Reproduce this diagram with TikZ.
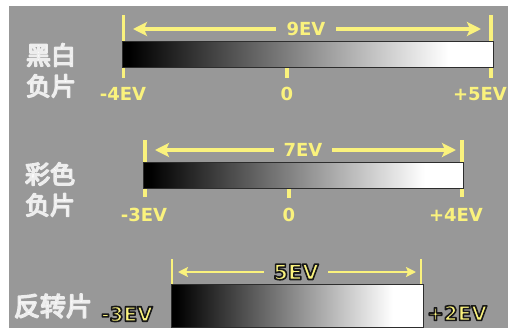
\documentclass[tikz,border=0pt]{standalone}
\usepackage{fontspec}
\usetikzlibrary{arrows.meta}
\newfontfamily\cjk{Noto Sans CJK SC}
\newfontfamily\lat{DejaVu Sans}
\definecolor{bg}{RGB}{152,152,152}
\definecolor{yel}{RGB}{250,242,125}
\definecolor{edge}{RGB}{45,45,45}
% outlined text: #1 fill colour, #2 stroke width, #3 stroke rgb, #4 text
\newcommand\outl[4]{{\color{#1}\special{pdf:literal direct 1 j #2 w #3 RG 2 Tr}#4\special{pdf:literal direct 0 Tr}}}
\pgfdeclarehorizontalshading{bwbar}{100bp}{color(0bp)=(black); color(26bp)=(black); color(69bp)=(white); color(100bp)=(white)}
\begin{document}
\begin{tikzpicture}[x=1pt,y=-1pt,
  bar/.style={shading=bwbar, draw=edge, line width=1pt},
  tickline/.style={yel, line width=3.5pt},
  tickthin/.style={yel, line width=2pt},
  arr/.style={yel, line width=3.5pt, {Stealth[length=14pt,width=14pt,inset=3pt]}-{Stealth[length=14pt,width=14pt,inset=3pt]}},
  arrthin/.style={yel, line width=2.2pt, {Stealth[length=10pt,width=10pt,inset=2pt]}-{Stealth[length=10pt,width=10pt,inset=2pt]}},
  lab/.style={inner sep=0pt, text=yel, font=\lat\bfseries\fontsize{18}{18}\selectfont},
  labbig/.style={inner sep=0pt, font=\lat\bfseries\fontsize{20}{20}\selectfont},
  cjklab/.style={inner sep=0pt, font=\cjk\fontsize{25}{25}\selectfont},
  evlab/.style={fill=bg, inner ysep=2pt, text=yel, font=\lat\bfseries\fontsize{18}{18}\selectfont}
]
\useasboundingbox (0,0) rectangle (508,329);
\fill[white] (0,0) rectangle (508,329);
\fill[bg] (9,6) rectangle (508,328);

% ---------- row 1 ----------
\coordinate (t1lt) at (123.5,15); \coordinate (t1lb) at (123.5,78);
\coordinate (t1rt) at (491,15);   \coordinate (t1rb) at (491,78);
\coordinate (t10t) at (287,68);   \coordinate (t10b) at (287,78);
\coordinate (a1l) at (133,29);    \coordinate (a1r) at (481,29);
\draw[tickline] (t1lt) -- (t1lb);
\draw[tickline] (t1rt) -- (t1rb);
\draw[tickline] (t10t) -- (t10b);
\path[bar] (122,42) rectangle (493,67);
\draw[arr] (a1l) -- (a1r);
\node[evlab, inner xsep=11pt] (e1) at (306,29) {9EV};
\node[lab] (l1a) at (123,94) {-4EV};
\node[lab] (l1b) at (287,94) {0};
\node[lab] (l1c) at (480,94) {+5EV};
\node[cjklab] (c1a) at (51,55) {\outl{white}{1.5}{0.93 0.93 0.93}{黑白}};
\node[cjklab] (c1b) at (51,86) {\outl{white}{1.5}{0.93 0.93 0.93}{负片}};

% ---------- row 2 ----------
\coordinate (t2lt) at (145,140); \coordinate (t2lb) at (145,197);
\coordinate (t2rt) at (462,140); \coordinate (t2rb) at (462,197);
\coordinate (t20t) at (289,188); \coordinate (t20b) at (289,198);
\coordinate (a2l) at (155,150);  \coordinate (a2r) at (456,150);
\draw[tickline] (t2lt) -- (t2lb);
\draw[tickline] (t2rt) -- (t2rb);
\draw[tickline] (t20t) -- (t20b);
\path[bar] (143,162) rectangle (463,188);
\draw[arr] (a2l) -- (a2r);
\node[evlab, inner xsep=10pt] (e2) at (303,150) {7EV};
\node[lab] (l2a) at (144,215) {-3EV};
\node[lab] (l2b) at (289,215) {0};
\node[lab] (l2c) at (456,215) {+4EV};
\node[cjklab] (c2a) at (50,174) {\outl{white}{1.5}{0.93 0.93 0.93}{彩色}};
\node[cjklab] (c2b) at (50,205) {\outl{white}{1.5}{0.93 0.93 0.93}{负片}};

% ---------- row 3 ----------
\coordinate (t3lt) at (172,259); \coordinate (t3lb) at (172,284);
\coordinate (t3rt) at (421,259); \coordinate (t3rb) at (421,284);
\coordinate (a3l) at (178,272);  \coordinate (a3r) at (416,272);
\draw[tickthin] (t3lt) -- (t3lb);
\draw[tickthin] (t3rt) -- (t3rb);
\path[bar] (171,284) rectangle (423,327);
\draw[arrthin] (a3l) -- (a3r);
\node[evlab, inner xsep=9pt, font=\lat\bfseries\fontsize{21}{21}\selectfont] (e3) at (296,272) {\outl{yel}{1.6}{0.1 0.1 0.1}{5EV}};
\node[labbig] (l3a) at (127,314) {\outl{yel}{1.6}{0.1 0.1 0.1}{-3EV}};
\node[labbig] (l3b) at (457,313) {\outl{yel}{1.6}{0.1 0.1 0.1}{+2EV}};
\node[cjklab, font=\cjk\fontsize{26}{26}\selectfont] (c3) at (53,306) {\outl{white}{1.6}{0.93 0.93 0.93}{反转片}};
\end{tikzpicture}
\end{document}
